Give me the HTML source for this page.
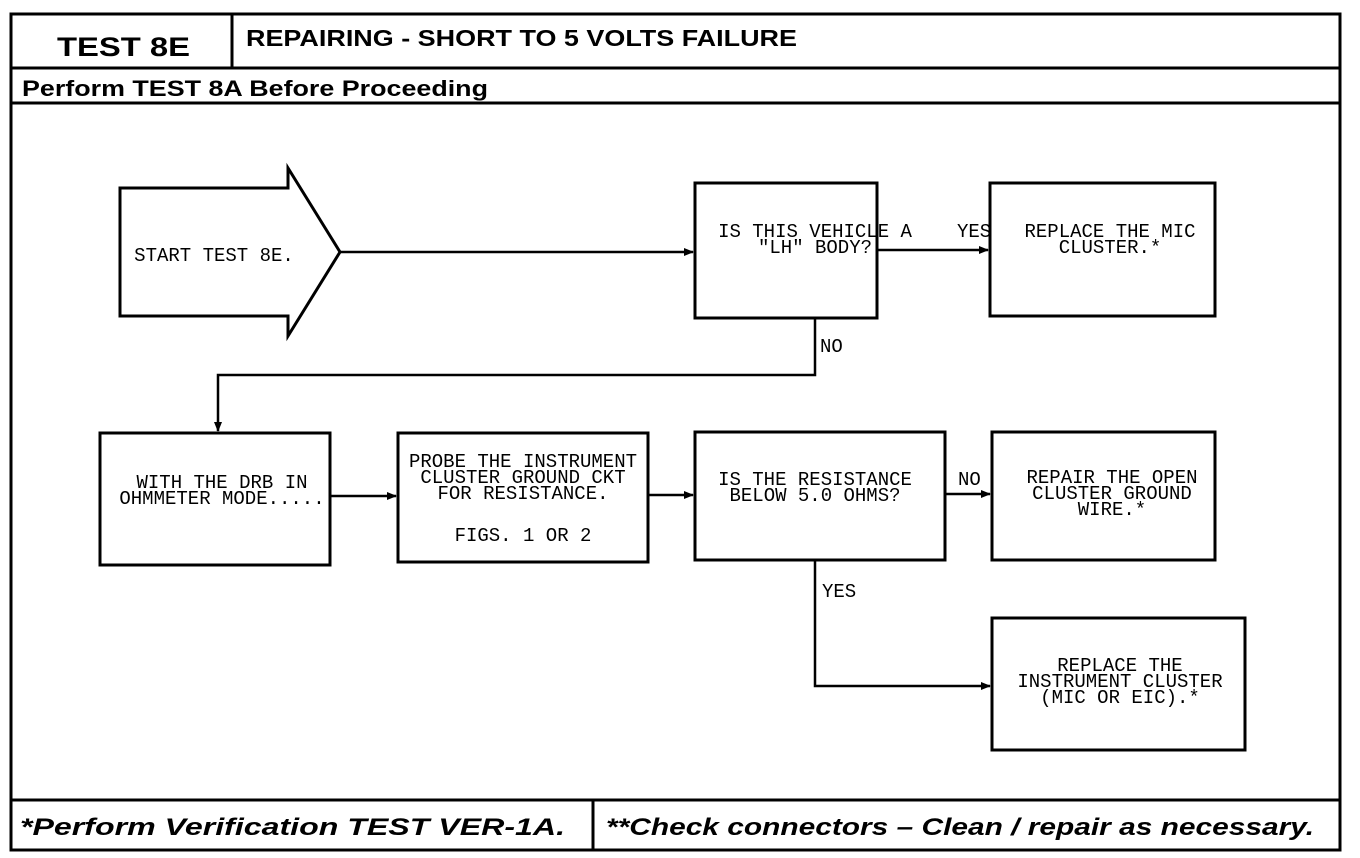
<!DOCTYPE html>
<html><head><meta charset="utf-8"><style>
html,body{margin:0;padding:0;background:#fff;}
svg{display:block;}
.t{font-family:"Liberation Mono",monospace;font-size:19px;fill:#000;}
.h{font-family:"Liberation Sans",sans-serif;font-weight:bold;fill:#000;}
</style></head><body>
<svg width="1360" height="858" viewBox="0 0 1360 858" xmlns="http://www.w3.org/2000/svg">
<defs><marker id="a" markerWidth="10" markerHeight="8" refX="9" refY="4" orient="auto" markerUnits="userSpaceOnUse"><path d="M0,0 L10,4 L0,8 z" fill="#000"/></marker></defs>
<g fill="none" stroke="#000" stroke-width="3">
<rect x="11" y="14" width="1329" height="836"/>
<line x1="11" y1="68" x2="1340" y2="68"/>
<line x1="232" y1="14" x2="232" y2="68"/>
<line x1="11" y1="103" x2="1340" y2="103"/>
<line x1="11" y1="800" x2="1340" y2="800"/>
<line x1="593" y1="800" x2="593" y2="850"/>
<path d="M120,188 L288,188 L288,168 L340,252 L288,336 L288,316 L120,316 Z"/>
<rect x="695" y="183" width="182" height="135"/>
<rect x="990" y="183" width="225" height="133"/>
<rect x="100" y="433" width="230" height="132"/>
<rect x="398" y="433" width="250" height="129"/>
<rect x="695" y="432" width="250" height="128"/>
<rect x="992" y="432" width="223" height="128"/>
<rect x="992" y="618" width="253" height="132"/>
</g>
<g fill="none" stroke="#000" stroke-width="2.5">
<line x1="340" y1="252" x2="693" y2="252" marker-end="url(#a)"/>
<line x1="877" y1="250" x2="988" y2="250" marker-end="url(#a)"/>
<polyline points="815,318 815,375 218,375 218,431" marker-end="url(#a)"/>
<line x1="330" y1="496" x2="396" y2="496" marker-end="url(#a)"/>
<line x1="648" y1="495" x2="693" y2="495" marker-end="url(#a)"/>
<line x1="945" y1="494" x2="990" y2="494" marker-end="url(#a)"/>
<polyline points="815,560 815,686 990,686" marker-end="url(#a)"/>
</g>
<text class="h" x="57" y="56" font-size="27" textLength="133" lengthAdjust="spacingAndGlyphs">TEST 8E</text>
<text class="h" x="246" y="46" font-size="23" textLength="551" lengthAdjust="spacingAndGlyphs">REPAIRING - SHORT TO 5 VOLTS FAILURE</text>
<text class="h" x="22" y="96" font-size="22" textLength="466" lengthAdjust="spacingAndGlyphs">Perform TEST 8A Before Proceeding</text>
<text class="h" x="20" y="835" font-size="24" font-style="italic" textLength="545" lengthAdjust="spacingAndGlyphs">*Perform Verification TEST VER-1A.</text>
<text class="h" x="606" y="835" font-size="24" font-style="italic" textLength="708" lengthAdjust="spacingAndGlyphs">**Check connectors – Clean / repair as necessary.</text>
<g class="t" text-anchor="middle">
<text x="214" y="261">START TEST 8E.</text>
<text x="815" y="237">IS THIS VEHICLE A</text>
<text x="815" y="253">"LH" BODY?</text>
<text x="1110" y="237">REPLACE THE MIC</text>
<text x="1110" y="253">CLUSTER.*</text>
<text x="222" y="488">WITH THE DRB IN</text>
<text x="222" y="504">OHMMETER MODE.....</text>
<text x="523" y="467">PROBE THE INSTRUMENT</text>
<text x="523" y="483">CLUSTER GROUND CKT</text>
<text x="523" y="499">FOR RESISTANCE.</text>
<text x="523" y="541">FIGS. 1 OR 2</text>
<text x="815" y="485">IS THE RESISTANCE</text>
<text x="815" y="501">BELOW 5.0 OHMS?</text>
<text x="1112" y="483">REPAIR THE OPEN</text>
<text x="1112" y="499">CLUSTER GROUND</text>
<text x="1112" y="515">WIRE.*</text>
<text x="1120" y="671">REPLACE THE</text>
<text x="1120" y="687">INSTRUMENT CLUSTER</text>
<text x="1120" y="703">(MIC OR EIC).*</text>
</g>
<g class="t">
<text x="957" y="237">YES</text>
<text x="820" y="352">NO</text>
<text x="958" y="485">NO</text>
<text x="822" y="597">YES</text>
</g>
</svg>
</body></html>
